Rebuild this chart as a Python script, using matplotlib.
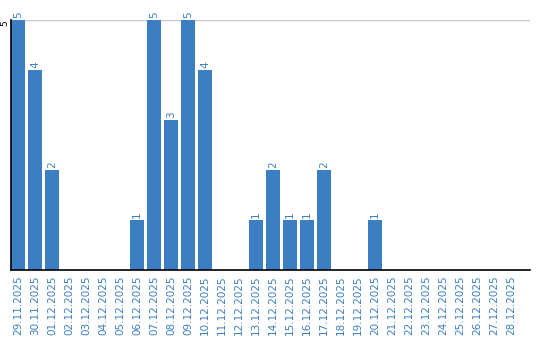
import matplotlib
matplotlib.use("Agg")
import matplotlib.pyplot as plt

dates = ["29.11.2025", "30.11.2025", "01.12.2025", "02.12.2025", "03.12.2025",
         "04.12.2025", "05.12.2025", "06.12.2025", "07.12.2025", "08.12.2025",
         "09.12.2025", "10.12.2025", "11.12.2025", "12.12.2025", "13.12.2025",
         "14.12.2025", "15.12.2025", "16.12.2025", "17.12.2025", "18.12.2025",
         "19.12.2025", "20.12.2025", "21.12.2025", "22.12.2025", "23.12.2025",
         "24.12.2025", "25.12.2025", "26.12.2025", "27.12.2025", "28.12.2025"]
values = [5, 4, 2, 0, 0, 0, 0, 1, 5, 3, 5, 4, 0, 0, 1, 2, 1, 1, 2, 0, 0, 1,
          0, 0, 0, 0, 0, 0, 0, 0]

blue = "#3b7ec2"
fig = plt.figure(figsize=(5.4, 3.4), dpi=100)
ax = fig.add_axes([11/540, 70/340, 519/540, 250/340])
x = list(range(len(dates)))
ax.bar(x, values, width=0.82, color=blue, zorder=2)
for xi, v in zip(x, values):
    if v > 0:
        ax.text(xi, v + 0.04, str(v), rotation=90, ha="center", va="bottom",
                color=blue, fontsize=7.5)
ax.set_xlim(-0.41, 30.1)
ax.set_ylim(0, 5)
ax.set_yticks([5])
ax.set_yticklabels(["5"], rotation=90, va="top", fontsize=6.5)
ax.axhline(5, color="#c8c8c8", lw=1, zorder=1)
ax.set_xticks(x)
ax.set_xticklabels(dates, rotation=90, fontsize=7.5, color=blue)
ax.tick_params(axis="x", length=0, pad=4)
ax.tick_params(axis="y", length=0, pad=1)
for s in ["top", "right"]:
    ax.spines[s].set_visible(False)
ax.spines["left"].set_linewidth(1.2)
ax.spines["bottom"].set_linewidth(1.2)
fig.savefig("out.png", dpi=100)
